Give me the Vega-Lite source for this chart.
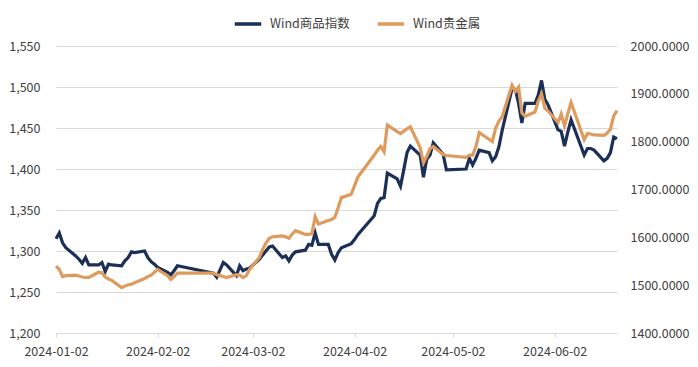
{
 "$schema": "https://vega.github.io/schema/vega-lite/v6.json",
 "width": 561, "height": 287,
 "autosize": {"type": "none"},
 "padding": {"left": 56, "top": 46, "right": 81, "bottom": 34},
 "background": "white",
 "config": {"view": {"stroke": null}, "font": "Noto Sans CJK SC"},
 "data": {"values": [
  {"date":"2024-01-02","wind":1315,"gold":1540},
  {"date":"2024-01-03","wind":1322,"gold":1533},
  {"date":"2024-01-04","wind":1310,"gold":1518},
  {"date":"2024-01-05","wind":1304,"gold":1520},
  {"date":"2024-01-08","wind":1294,"gold":1521},
  {"date":"2024-01-09","wind":1290,"gold":1519},
  {"date":"2024-01-10","wind":1285,"gold":1517},
  {"date":"2024-01-11","wind":1292,"gold":1516},
  {"date":"2024-01-12","wind":1283,"gold":1516},
  {"date":"2024-01-15","wind":1283,"gold":1527},
  {"date":"2024-01-16","wind":1286,"gold":1526},
  {"date":"2024-01-17","wind":1275,"gold":1517},
  {"date":"2024-01-18","wind":1284,"gold":1513},
  {"date":"2024-01-19","wind":1283,"gold":1510},
  {"date":"2024-01-22","wind":1282,"gold":1495},
  {"date":"2024-01-23","wind":1288,"gold":1498},
  {"date":"2024-01-24","wind":1292,"gold":1501},
  {"date":"2024-01-25","wind":1299,"gold":1502},
  {"date":"2024-01-26","wind":1298,"gold":1505},
  {"date":"2024-01-29","wind":1300,"gold":1514},
  {"date":"2024-01-30","wind":1292,"gold":1518},
  {"date":"2024-01-31","wind":1287,"gold":1521},
  {"date":"2024-02-01","wind":1284,"gold":1527},
  {"date":"2024-02-02","wind":1280,"gold":1533},
  {"date":"2024-02-05","wind":1274,"gold":1520},
  {"date":"2024-02-06","wind":1271,"gold":1512},
  {"date":"2024-02-07","wind":1276,"gold":1518},
  {"date":"2024-02-08","wind":1282,"gold":1525},
  {"date":"2024-02-19","wind":1273,"gold":1525},
  {"date":"2024-02-20","wind":1268,"gold":1522},
  {"date":"2024-02-21","wind":1277,"gold":1520},
  {"date":"2024-02-22","wind":1286,"gold":1518},
  {"date":"2024-02-23","wind":1283,"gold":1516},
  {"date":"2024-02-26","wind":1270,"gold":1522},
  {"date":"2024-02-27","wind":1282,"gold":1521},
  {"date":"2024-02-28","wind":1276,"gold":1516},
  {"date":"2024-02-29","wind":1278,"gold":1520},
  {"date":"2024-03-01","wind":1279,"gold":1533},
  {"date":"2024-03-04","wind":1290,"gold":1558},
  {"date":"2024-03-05","wind":1295,"gold":1575},
  {"date":"2024-03-06","wind":1300,"gold":1588},
  {"date":"2024-03-07","wind":1305,"gold":1598},
  {"date":"2024-03-08","wind":1306,"gold":1601},
  {"date":"2024-03-11","wind":1292,"gold":1603},
  {"date":"2024-03-12","wind":1294,"gold":1601},
  {"date":"2024-03-13","wind":1288,"gold":1598},
  {"date":"2024-03-14","wind":1295,"gold":1607},
  {"date":"2024-03-15","wind":1299,"gold":1614},
  {"date":"2024-03-18","wind":1301,"gold":1606},
  {"date":"2024-03-19","wind":1308,"gold":1606},
  {"date":"2024-03-20","wind":1307,"gold":1608},
  {"date":"2024-03-21","wind":1322,"gold":1643},
  {"date":"2024-03-22","wind":1308,"gold":1628},
  {"date":"2024-03-25","wind":1308,"gold":1635},
  {"date":"2024-03-26","wind":1296,"gold":1637},
  {"date":"2024-03-27","wind":1289,"gold":1642},
  {"date":"2024-03-28","wind":1298,"gold":1662},
  {"date":"2024-03-29","wind":1304,"gold":1683},
  {"date":"2024-04-01","wind":1309,"gold":1690},
  {"date":"2024-04-02","wind":1314,"gold":1708},
  {"date":"2024-04-03","wind":1320,"gold":1726},
  {"date":"2024-04-08","wind":1343,"gold":1772},
  {"date":"2024-04-09","wind":1358,"gold":1782},
  {"date":"2024-04-10","wind":1364,"gold":1790},
  {"date":"2024-04-11","wind":1365,"gold":1779},
  {"date":"2024-04-12","wind":1395,"gold":1835},
  {"date":"2024-04-15","wind":1388,"gold":1821},
  {"date":"2024-04-16","wind":1379,"gold":1817},
  {"date":"2024-04-17","wind":1399,"gold":1822},
  {"date":"2024-04-18","wind":1420,"gold":1827},
  {"date":"2024-04-19","wind":1428,"gold":1831},
  {"date":"2024-04-22","wind":1417,"gold":1788},
  {"date":"2024-04-23","wind":1390,"gold":1756},
  {"date":"2024-04-24","wind":1412,"gold":1769},
  {"date":"2024-04-25","wind":1417,"gold":1785},
  {"date":"2024-04-26","wind":1432,"gold":1790},
  {"date":"2024-04-29","wind":1418,"gold":1773},
  {"date":"2024-04-30","wind":1399,"gold":1771},
  {"date":"2024-05-06","wind":1400,"gold":1767},
  {"date":"2024-05-07","wind":1413,"gold":1772},
  {"date":"2024-05-08","wind":1405,"gold":1772},
  {"date":"2024-05-09","wind":1413,"gold":1790},
  {"date":"2024-05-10","wind":1423,"gold":1819},
  {"date":"2024-05-13","wind":1420,"gold":1805},
  {"date":"2024-05-14","wind":1410,"gold":1800},
  {"date":"2024-05-15","wind":1415,"gold":1828},
  {"date":"2024-05-16","wind":1427,"gold":1843},
  {"date":"2024-05-17","wind":1447,"gold":1852},
  {"date":"2024-05-20","wind":1498,"gold":1918},
  {"date":"2024-05-21","wind":1497,"gold":1905},
  {"date":"2024-05-22","wind":1480,"gold":1914},
  {"date":"2024-05-23","wind":1456,"gold":1860},
  {"date":"2024-05-24","wind":1480,"gold":1853},
  {"date":"2024-05-27","wind":1480,"gold":1862},
  {"date":"2024-05-28","wind":1490,"gold":1885},
  {"date":"2024-05-29","wind":1508,"gold":1900},
  {"date":"2024-05-30","wind":1485,"gold":1870},
  {"date":"2024-05-31","wind":1478,"gold":1864},
  {"date":"2024-06-03","wind":1448,"gold":1840},
  {"date":"2024-06-04","wind":1446,"gold":1858},
  {"date":"2024-06-05","wind":1428,"gold":1833},
  {"date":"2024-06-06","wind":1445,"gold":1858},
  {"date":"2024-06-07","wind":1460,"gold":1882},
  {"date":"2024-06-11","wind":1417,"gold":1804},
  {"date":"2024-06-12","wind":1425,"gold":1817},
  {"date":"2024-06-13","wind":1425,"gold":1816},
  {"date":"2024-06-14","wind":1423,"gold":1814},
  {"date":"2024-06-17","wind":1410,"gold":1813},
  {"date":"2024-06-18","wind":1413,"gold":1818},
  {"date":"2024-06-19","wind":1420,"gold":1826},
  {"date":"2024-06-20","wind":1439,"gold":1854},
  {"date":"2024-06-21","wind":1437,"gold":1865}
 ]},
 "encoding": {
  "x": {"field": "date", "type": "temporal",
   "scale": {"type": "utc", "domain": [{"year":2024,"month":1,"date":2,"utc":true},{"year":2024,"month":6,"date":21,"utc":true}]},
   "axis": {"values": [
     {"year":2024,"month":1,"date":2,"utc":true},
     {"year":2024,"month":2,"date":2,"utc":true},
     {"year":2024,"month":3,"date":2,"utc":true},
     {"year":2024,"month":4,"date":2,"utc":true},
     {"year":2024,"month":5,"date":2,"utc":true},
     {"year":2024,"month":6,"date":2,"utc":true}],
    "format": "%Y-%m-%d", "grid": false, "title": null,
    "domainColor": "#d9d9d9", "tickColor": "#d9d9d9", "tickSize": 4,
    "labelFontSize": 12.5, "labelColor": "#404040", "labelPadding": 8,
    "labelFlush": false, "labelOverlap": false}}
 },
 "layer": [
  {"mark": {"type": "line", "strokeWidth": 3.2},
   "encoding": {
    "y": {"field": "wind", "type": "quantitative",
     "scale": {"domain": [1200, 1550], "nice": false, "zero": false},
     "axis": {"values": [1200,1250,1300,1350,1400,1450,1500,1550], "format": ",.0f", "title": null,
      "grid": true, "gridColor": "#d9d9d9", "domain": false, "ticks": false,
      "labelPadding": 16, "labelFontSize": 12.5, "labelColor": "#404040"}},
    "color": {"datum": "Wind商品指数", "type": "nominal",
     "scale": {"domain": ["Wind商品指数", "Wind贵金属"], "range": ["#1b2f57", "#de9b5d"]},
     "legend": {"orient": "none", "legendX": 177, "legendY": -37, "direction": "horizontal", "title": null,
      "symbolType": "stroke", "symbolSize": 700, "symbolStrokeWidth": 3.5,
      "labelFontSize": 12.5, "labelColor": "#404040", "columnPadding": 20, "labelOffset": 7}}
   }},
  {"mark": {"type": "line", "strokeWidth": 3.2},
   "encoding": {
    "y": {"field": "gold", "type": "quantitative",
     "scale": {"domain": [1400, 2000], "nice": false, "zero": false},
     "axis": {"orient": "right", "values": [1400,1500,1600,1700,1800,1900,2000], "format": ".4f", "title": null,
      "grid": false, "domain": false, "ticks": false,
      "labelPadding": 13, "labelFontSize": 12.5, "labelColor": "#404040"}},
    "color": {"datum": "Wind贵金属", "type": "nominal"}
   }}
 ],
 "resolve": {"scale": {"y": "independent"}}
}
